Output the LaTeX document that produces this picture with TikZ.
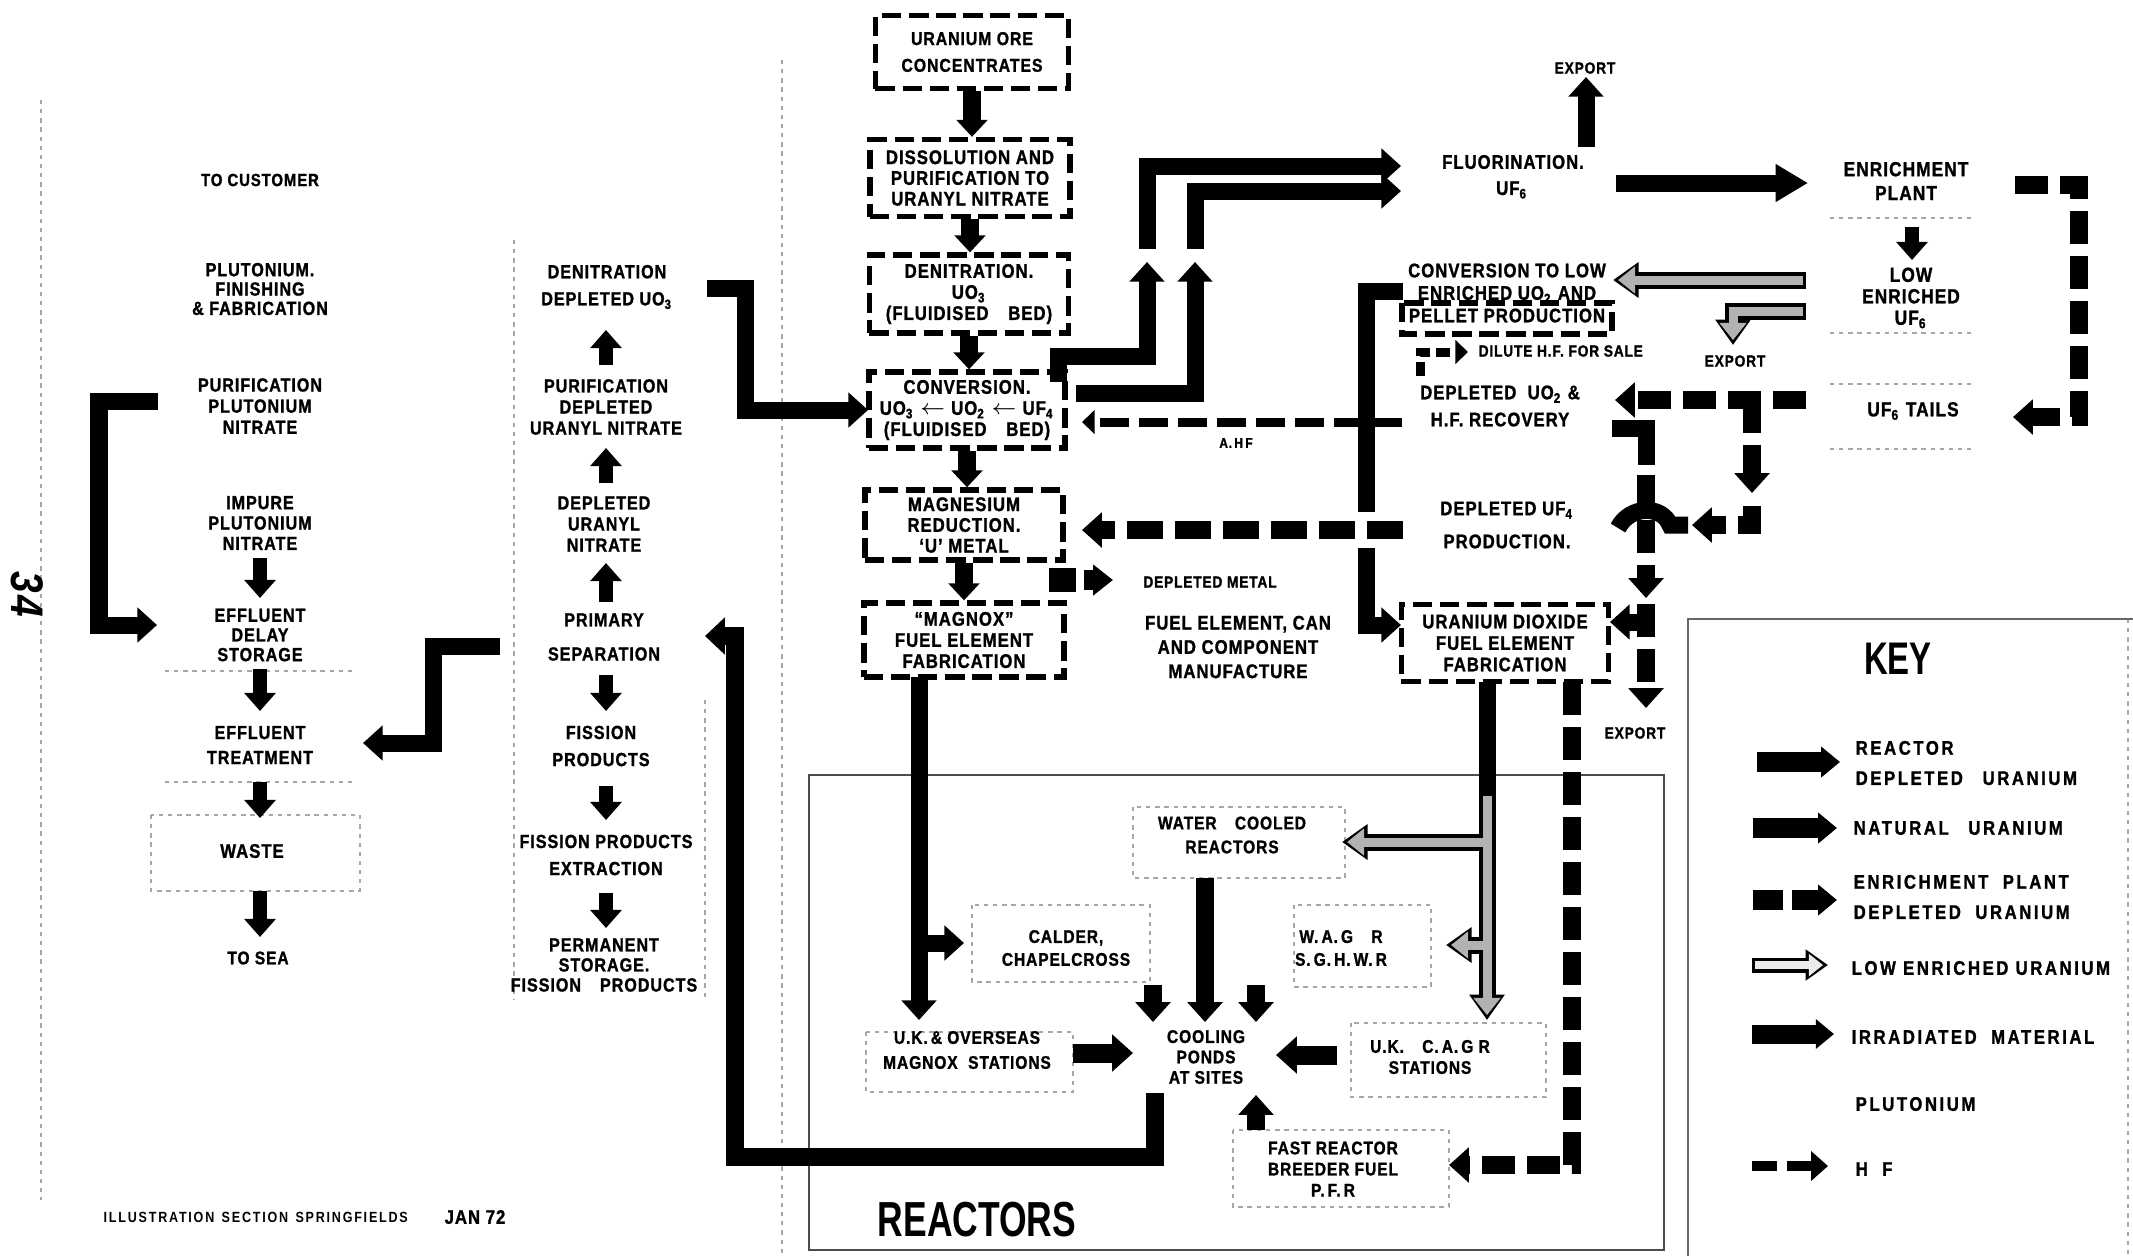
\documentclass[tikz,border=0pt]{standalone}
\usepackage{fontspec}
\setmainfont{Liberation Sans}[FakeStretch=0.85,LetterSpace=5,BoldFeatures={FakeBold=1.2}]
\newfontfamily\ttlfont{Liberation Sans}[FakeStretch=0.72]
\newfontfamily\keyfont{Liberation Sans}[FakeStretch=0.85,LetterSpace=13,BoldFeatures={FakeBold=1.2}]
\newfontfamily\capfont{Liberation Sans}[FakeStretch=0.85,LetterSpace=12]
\usetikzlibrary{arrows.meta}
\newcommand\sbx[1]{\textsubscript{#1}}
\tikzset{
  lb/.style={align=center,inner sep=0pt},
  tx/.style 2 args={lb,font={\fontsize{#1}{#2}\selectfont\bfseries}},
  cbox/.style={draw,line width=1.5pt,dash pattern=on 5.5pt off 2.2pt,align=center,inner sep=0pt},
  cline/.style={line width=1.5pt,dash pattern=on 5.5pt off 2.2pt},
  nat/.style={line width=0.17cm,-{Triangle[length=0pt 1.15,width=0pt 2]}},
  natL/.style={line width=0.17cm,-{Triangle[length=0pt 1.9,width=0pt 2.1]}},
  cdn/.style={line width=0.18cm,-{Triangle[length=0pt 0.95,width=0pt 1.7]}},
  sm/.style={line width=0.14cm,-{Triangle[length=0pt 1.3,width=0pt 2.2]}},
  rk/.style={line width=0.18cm,-{Triangle[length=0pt 1.1,width=0pt 1.9]}},
  irr/.style={line width=0.18cm,-{Triangle[length=0pt 1.1,width=0pt 2]}},
  epd/.style={line width=0.18cm,dash pattern=on 0.33cm off 0.12cm,-{Triangle[length=0pt 1.1,width=0pt 1.9]}},
  hfa/.style={line width=0.09cm,dash pattern=on 0.29cm off 0.1cm,-{Triangle[length=0pt 1.4,width=0pt 2.6]}},
  leo/.style={line width=0.17cm,-{Triangle[length=0pt 1.5,width=0pt 2]}},
  lei/.style={line width=0.09cm,black!30,shorten >=0.05cm,shorten <=0.03cm,-{Triangle[length=0pt 1.9,width=0pt 2.9]}},
  kar/.style={line width=0.2cm,-{Triangle[length=0pt 0.95,width=0pt 1.5]}},
  faint/.style={draw=black!35,line width=0.35pt,dash pattern=on 1.2pt off 1.4pt},
  frame/.style={draw=black!70,line width=0.8pt}
}
\begin{document}
\begin{tikzpicture}[x=0.01cm,y=-0.01cm]
\useasboundingbox[fill=white] (0,0) rectangle (2133,1256);

% ---------- faint guide lines ----------
\draw[faint] (41,100) -- (41,1200);
\draw[faint] (782,60) -- (782,1256);
\draw[faint] (514,240) -- (514,1000);
\draw[faint] (705,700) -- (705,1000);
\draw[faint] (151,815) rectangle (360,891);
\draw[faint] (165,671) -- (355,671);
\draw[faint] (165,782) -- (355,782);
\draw[faint] (1830,218) -- (1975,218);
\draw[faint] (1830,333) -- (1975,333);
\draw[faint] (1830,384) -- (1975,384);
\draw[faint] (1830,449) -- (1975,449);
\draw[faint] (866,1032) rectangle (1073,1092);
\draw[faint] (1351,1023) rectangle (1546,1097);
\draw[faint] (1233,1130) rectangle (1449,1207);
\draw[faint] (1133,807) rectangle (1345,878);
\draw[faint] (972,905) rectangle (1150,982);
\draw[faint] (1294,905) rectangle (1431,987);
\draw[faint] (2128,619) -- (2128,1256);

% ---------- frames ----------
\draw[frame] (809,775) rectangle (1664,1250);
\draw[frame,draw=black!60] (1688,1256) -- (1688,619) -- (2133,619);

% ---------- central column boxes ----------
\node[cbox,minimum width=1.93cm,minimum height=0.73cm,font={\fontsize{5.3}{7.6}\selectfont\bfseries}] (b1) at (972,52) {URANIUM ORE\\CONCENTRATES};
\node[cbox,minimum width=2.0cm,minimum height=0.77cm,font={\fontsize{5.6}{5.9}\selectfont\bfseries}] (b2) at (970,178) {DISSOLUTION AND\\PURIFICATION TO\\URANYL NITRATE};
\node[cbox,minimum width=1.99cm,minimum height=0.78cm,font={\fontsize{5.6}{6}\selectfont\bfseries}] (b3) at (969,294) {DENITRATION.\\UO\sbx{3}\\(FLUIDISED\quad BED)};
\node[cbox,minimum width=1.96cm,minimum height=0.76cm,font={\fontsize{5.6}{6}\selectfont\bfseries}] (b4) at (967,410) {CONVERSION.\\UO\sbx{3} $\leftarrow$ UO\sbx{2} $\leftarrow$ UF\sbx{4}\\(FLUIDISED\quad BED)};
\node[cbox,minimum width=1.98cm,minimum height=0.70cm,font={\fontsize{5.6}{5.9}\selectfont\bfseries}] (b5) at (964,525) {MAGNESIUM\\REDUCTION.\\`U' METAL};
\node[cbox,minimum width=2.0cm,minimum height=0.74cm,font={\fontsize{5.6}{6}\selectfont\bfseries}] (b6) at (964,640) {``MAGNOX''\\FUEL ELEMENT\\FABRICATION};
\node[cbox,minimum width=2.07cm,minimum height=0.77cm,font={\fontsize{5.6}{6.1}\selectfont\bfseries}] (ubox) at (1505,643) {URANIUM DIOXIDE\\FUEL ELEMENT\\FABRICATION};

\foreach \a/\b in {b1/b2,b2/b3,b3/b4,b4/b5,b5/b6}
  \draw[cdn] (\a.south) -- (\a.south |- \b.north);

% ---------- left column ----------
\node[tx={5.0}{5.5}] (tocust) at (260,180) {TO CUSTOMER};
\node[tx={5.4}{5.5}] (pufin) at (260,289) {PLUTONIUM.\\FINISHING\\\& FABRICATION};
\node[tx={5.4}{6}] (pupur) at (260,406) {PURIFICATION\\PLUTONIUM\\NITRATE};
\node[tx={5.4}{5.8}] (puimp) at (260,523) {IMPURE\\PLUTONIUM\\NITRATE};
\node[tx={5.4}{5.6}] (effdel) at (260,635) {EFFLUENT\\DELAY\\STORAGE};
\node[tx={5.4}{7.1}] (efftr) at (260,745) {EFFLUENT\\TREATMENT};
\node[tx={5.6}{6}] (waste) at (252,851) {WASTE};
\node[tx={5.2}{6}] (tosea) at (258,958) {TO SEA};

\draw[sm] (260,558) -- (260,598);
\draw[sm] (260,669) -- (260,711);
\draw[sm] (260,782) -- (260,818);
\draw[sm] (260,891) -- (260,937);
\draw[nat] (158,401) -- (99,401) -- (99,625) -- (157,625);

% ---------- middle-left column ----------
\node[tx={5.4}{7.7}] (denit) at (607,287) {DENITRATION\\DEPLETED UO\sbx{3}};
\node[tx={5.4}{6}] (purdep) at (606,407) {PURIFICATION\\DEPLETED\\URANYL\ NITRATE};
\node[tx={5.4}{6}] (depur) at (604,524) {DEPLETED\\URANYL\\NITRATE};
\node[tx={5.4}{9.7}] (prim) at (604,637) {PRIMARY\\SEPARATION};
\node[tx={5.4}{7.7}] (fiss) at (601,746) {FISSION\\PRODUCTS};
\node[tx={5.4}{7.7}] (fpext) at (606,855) {FISSION PRODUCTS\\EXTRACTION};
\node[tx={5.4}{5.7}] (perm) at (604,965) {PERMANENT\\STORAGE.\\FISSION\quad PRODUCTS};

\draw[sm] (606,365) -- (606,330);
\draw[sm] (606,483) -- (606,448);
\draw[sm] (606,602) -- (606,563);
\draw[sm] (606,675) -- (606,711);
\draw[sm] (606,786) -- (606,820);
\draw[sm] (606,893) -- (606,928);
\draw[nat] (500,646) -- (433,646) -- (433,743) -- (363,743);
\draw[nat] (707,288) -- (745,288) -- (745,410) -- (868,410);

% ---------- top right ----------
\node[tx={4.6}{5}] (export1) at (1585,68) {EXPORT};
\node[tx={5.6}{6}] (fluor) at (1513,162) {FLUORINATION.};
\node[tx={5.6}{6}] (uf6a) at (1512,190) {UF\sbx{6}};
\node[tx={5.8}{6.8}] (enr) at (1906,181) {ENRICHMENT\\PLANT};
\node[tx={5.8}{6.1}] (lowuf) at (1911,298) {LOW\\ENRICHED\\UF\sbx{6}};
\node[tx={5.8}{6}] (tails) at (1913,411) {UF\sbx{6}\ TAILS};
\node[tx={5.6}{6.4}] (convlow) at (1507,293) {CONVERSION TO LOW\\ENRICHED UO\sbx{2} AND\\PELLET PRODUCTION};
\draw[cline] (1402,303) rectangle (1612,334);
\node[tx={4.6}{5},anchor=west] (dilute) at (1478,351) {DILUTE H.F. FOR SALE};
\node[tx={4.6}{5}] (export2) at (1735,361) {EXPORT};
\node[tx={5.6}{7.7}] (depuo2) at (1500,406) {DEPLETED\ \ UO\sbx{2} \&\\H.F. RECOVERY};
\node[tx={5.6}{9.4}] (depuf4) at (1507,525) {DEPLETED UF\sbx{4}\\PRODUCTION.};
\node[tx={4.6}{5}] (export3) at (1635,733) {EXPORT};
\node[tx={4.0}{5}] (ahf) at (1236,443) {A.\,H\,F};
\node[tx={4.6}{5}] (depmet) at (1210,582) {DEPLETED METAL};
\node[tx={5.6}{6.9}] (fuelcan) at (1238,647) {FUEL ELEMENT, CAN\\AND COMPONENT\\MANUFACTURE};

% conversion -> fluorination
\draw[nat] (1058,382) -- (1058,356) -- (1147,356) -- (1147,262);
\draw[nat] (1147,249) -- (1147,166) -- (1401,166);
\draw[nat] (1076,393) -- (1195,393) -- (1195,262);
\draw[nat] (1195,249) -- (1195,191) -- (1401,191);
\draw[nat] (1586,147) -- (1586,77);
\draw[natL] (1616,183) -- (1808,183);
\draw[sm] (1912,227) -- (1912,260);
\draw[epd] (2015,185) -- (2079,185) -- (2079,417) -- (2013,417);

% low enriched arrows (outline)
\draw[leo] (1806,280) -- (1613,280);
\draw[leo] (1806,311) -- (1733,311) -- (1733,345);
\draw[lei] (1806,280) -- (1613,280);
\draw[lei] (1806,311) -- (1733,311) -- (1733,345);

% tails / depleted
\draw[epd] (1806,400) -- (1615,400);
\draw[epd] (1752,400) -- (1752,493);
\draw[epd] (1752,506) -- (1752,525) -- (1692,525);
\draw[line width=0.17cm] (1612,428) -- (1646,428) -- (1646,465);
\draw[epd] (1646,475) -- (1646,598);
\draw[line width=0.17cm] (1688,525) -- (1670,525) .. controls (1662,505) and (1630,505) .. (1618,528);
\draw[epd] (1646,604) -- (1646,708);
\draw[nat] (1646,622) -- (1610,622);

% HF lines
\draw[hfa,dash pattern=on 0.14cm off 0.06cm] (1420,376) -- (1420,352) -- (1468,352);
\draw[hfa] (1402,422) -- (1082,422);
\draw[epd,dash pattern=on 0.36cm off 0.12cm] (1403,530) -- (1082,530);

% natural line to UO2 box (with gap at UF4 crossing)
\draw[line width=0.17cm] (1403,291) -- (1366,291) -- (1366,512);
\draw[nat] (1366,548) -- (1366,625) -- (1401,625);

% depleted metal
\fill (1049,568) rectangle (1076,592);
\draw[line width=0.2cm,-{Triangle[length=0pt 1.0,width=0pt 1.5]}] (1084,580) -- (1113,580);

% ---------- reactors ----------
\node[tx={5.2}{6.8}] (water) at (1232,835) {WATER\quad COOLED\\REACTORS};
\node[tx={5.2}{6.5}] (calder) at (1066,948) {CALDER,\\CHAPELCROSS};
\node[tx={5.2}{6.5}] (wagr) at (1341,948) {W.\,A.\,G\quad R\\S.\,G.\,H.\,W.\,R};
\node[tx={5.2}{7.1}] (magst) at (967,1050) {U.K.\,\&\ OVERSEAS\\MAGNOX\ \ STATIONS};
\node[tx={5.2}{5.8}] (cool) at (1206,1057) {COOLING\\PONDS\\AT\ SITES};
\node[tx={5.2}{6.0}] (cagr) at (1430,1057) {U.K.\quad C.\,A.\,G\ R\\STATIONS};
\node[tx={5.2}{6.0}] (fast) at (1333,1169) {FAST\ REACTOR\\BREEDER\ FUEL\\P.\,F.\,R};
\node[lb,font={\ttlfont\bfseries\fontsize{14}{14}\selectfont}] (reactors) at (977,1220) {REACTORS};

\draw[nat] (919,677) -- (919,1020);
\draw[nat] (919,943) -- (964,943);
\draw[rk] (1153,985) -- (1153,1022);
\draw[rk] (1205,878) -- (1205,1022);
\draw[rk] (1256,985) -- (1256,1022);
\draw[rk,line width=0.19cm] (1073,1053) -- (1133,1053);
\draw[rk,line width=0.19cm] (1337,1055) -- (1276,1055);
\draw[rk] (1256,1130) -- (1256,1095);
\draw[irr] (1155,1093) -- (1155,1157) -- (735,1157) -- (735,636) -- (705,636);
\draw[epd] (1572,682) -- (1572,1165) -- (1449,1165);

% low enriched from UO2 box
\draw[leo] (1487,682) -- (1487,1020);
\draw[leo] (1487,842) -- (1342,842);
\draw[leo] (1487,945) -- (1446,945);
\draw[lei] (1487,793) -- (1487,1020);
\draw[lei] (1487,842) -- (1342,842);
\draw[lei] (1487,945) -- (1446,945);

% ---------- key ----------
\node[lb,font={\ttlfont\bfseries\fontsize{13}{13}\selectfont}] (key) at (1898,659) {KEY};
\draw[kar] (1757,762) -- (1840,762);
\draw[kar] (1753,828) -- (1837,828);
\draw[kar,dash pattern=on 0.30cm off 0.09cm] (1753,900) -- (1837,900);
\draw[leo,line width=0.15cm] (1752,965) -- (1828,965);
\draw[lei,black!8,line width=0.075cm] (1752,965) -- (1828,965);
\draw[kar,line width=0.19cm] (1752,1034) -- (1834,1034);
\draw[line width=0.1cm,dash pattern=on 0.25cm off 0.1cm,-{Triangle[length=0pt 1.7,width=0pt 2.9]}] (1752,1166) -- (1828,1166);

\begin{scope}[every node/.style={anchor=west,inner sep=0pt,align=left,font={\keyfont\bfseries\fontsize{5.6}{8.6}\selectfont}}]
\node (k1) at (1855,763) {REACTOR\\DEPLETED\quad URANIUM};
\node (k2) at (1853,828) {NATURAL\quad URANIUM};
\node (k3) at (1853,897) {ENRICHMENT\ \ PLANT\\DEPLETED\ \ URANIUM};
\node (k4) at (1851,968) {LOW\ ENRICHED\ URANIUM};
\node (k5) at (1851,1037) {IRRADIATED\ \ MATERIAL};
\node (k6) at (1855,1104) {PLUTONIUM};
\node (k7) at (1855,1169) {H\ \ F};
\end{scope}

% ---------- caption and margin note ----------
\node[anchor=west,inner sep=0pt,font={\capfont\bfseries\fontsize{4.2}{5}\selectfont}] (cap) at (103,1217) {ILLUSTRATION\enspace SECTION\enspace SPRINGFIELDS};
\node[tx={5.6}{6}] (jan) at (475,1217) {JAN 72};
\node[lb,rotate=-90,font={\fontsize{13}{13}\selectfont\itshape\bfseries}] (pg) at (27,594) {34};
\end{tikzpicture}
\end{document}
